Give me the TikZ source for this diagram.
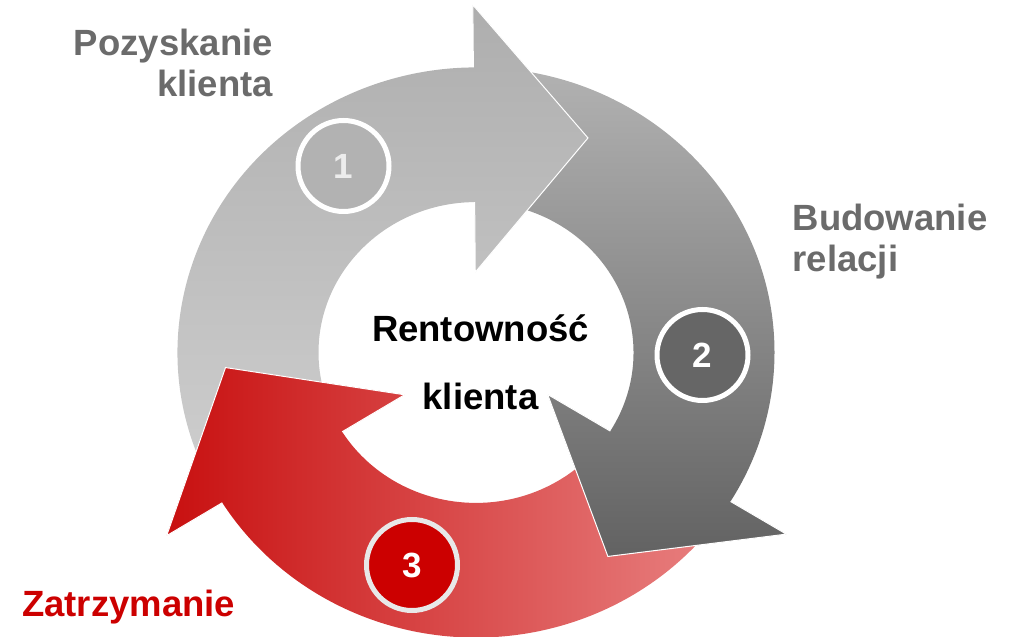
\documentclass[tikz,border=0pt]{standalone}
\usepackage{fontspec}
\setmainfont{Liberation Sans}
\definecolor{labelgray}{RGB}{107,107,107}
\definecolor{labelred}{RGB}{204,0,0}
\definecolor{oneTop}{RGB}{174,174,174}
\definecolor{oneBot}{RGB}{206,206,206}
\definecolor{twoTop}{RGB}{178,178,178}
\definecolor{twoBot}{RGB}{98,98,98}
\definecolor{threeL}{RGB}{200,16,16}
\definecolor{threeR}{RGB}{232,128,128}
\definecolor{badgeOne}{RGB}{178,178,178}
\definecolor{badgeTwo}{RGB}{102,102,102}
\definecolor{badgeThree}{RGB}{204,0,0}
\definecolor{rimThree}{RGB}{232,232,232}
\definecolor{digitOne}{RGB}{236,236,236}
% ring and arrow-head radii
\def\rOut{298.5}
\def\rIn{157.5}
\def\hOut{364}
\def\hIn{84}
\def\hTip{251}
% curved arrow: #1 tail angle, #2 head base angle, #3 tip angle
\newcommand\ringarrow[3]{(#1:\rOut) arc[start angle=#1, end angle=#2, radius=\rOut]
  -- (#2:\hOut) -- (#3:\hTip) -- (#2:\hIn) -- (#2:\rIn)
  arc[start angle=#2, end angle=#1, radius=\rIn] -- cycle}
\newcommand\headtri[2]{(#1:\hOut) -- (#2:\hTip) -- (#1:\hIn) -- cycle}
\newcommand\headrim[2]{(#1:\rOut) -- (#1:\hOut) -- (#2:\hTip) -- (#1:\hIn) -- (#1:\rIn)}
\begin{document}
\begin{tikzpicture}[x=1pt,y=1pt,
  lbl/.style={font=\bfseries\fontsize{36.5}{41}\selectfont, inner sep=0pt},
  badge/.style={circle, minimum size=91pt, line width=5pt, inner sep=0pt,
    font=\bfseries\fontsize{35}{35}\selectfont},
  headedge/.style={draw=white, line width=1pt, line join=miter},
  shadeOne/.style={top color=oneTop, bottom color=oneBot},
  shadeTwo/.style={top color=twoTop, bottom color=twoBot},
  shadeThree/.style={left color=threeL, right color=threeR}
]
\useasboundingbox (0,0) rectangle (1015,637);

\begin{scope}[shift={(476,284.5)}, yscale=0.9551]
  % bodies
  \shade[shadeOne] \ringarrow{206.8}{90.5}{63.5};
  \shade[shadeTwo] \ringarrow{85.5}{-31.5}{-58.3};
  \shade[shadeThree] \ringarrow{-36.5}{-148.2}{-176.4};
  % heads on top of the next arrow's tail
  \begin{scope}
    \clip \headtri{90.5}{63.5};
    \shade[shadeOne] \ringarrow{206.8}{90.5}{63.5};
  \end{scope}
  \draw[headedge] \headrim{90.5}{63.5};
  \begin{scope}
    \clip \headtri{-31.5}{-58.3};
    \shade[shadeTwo] \ringarrow{85.5}{-31.5}{-58.3};
  \end{scope}
  \draw[headedge] \headrim{-31.5}{-58.3};
  \begin{scope}
    \clip \headtri{-148.2}{-176.4};
    \shade[shadeThree] \ringarrow{-36.5}{-148.2}{-176.4};
  \end{scope}
  \draw[headedge] \headrim{-148.2}{-176.4};
\end{scope}

% step badges
\node[badge, fill=badgeOne, draw=white, text=digitOne] (b1) at (343.5,471) {1};
\node[badge, fill=badgeTwo, draw=white, text=white] (b2) at (702.5,282) {2};
\node[badge, fill=badgeThree, draw=rimThree, text=white] (b3) at (412,72) {3};

% labels (base anchor sits on the last line)
\node[lbl, text=labelgray, align=right, anchor=base east] (acq) at (273,540.5)
  {Pozyskanie\\klienta};
\node[lbl, text=labelgray, align=left, anchor=base west] (rel) at (792.5,365.5)
  {Budowanie\\relacji};
\node[lbl, text=labelred, anchor=base west] (ret) at (22,20) {Zatrzymanie};
\node[lbl, font=\bfseries\fontsize{36.5}{68}\selectfont, align=center, anchor=base]
  (core) at (480.5,227) {Rentowność\\klienta};
\end{tikzpicture}
\end{document}
